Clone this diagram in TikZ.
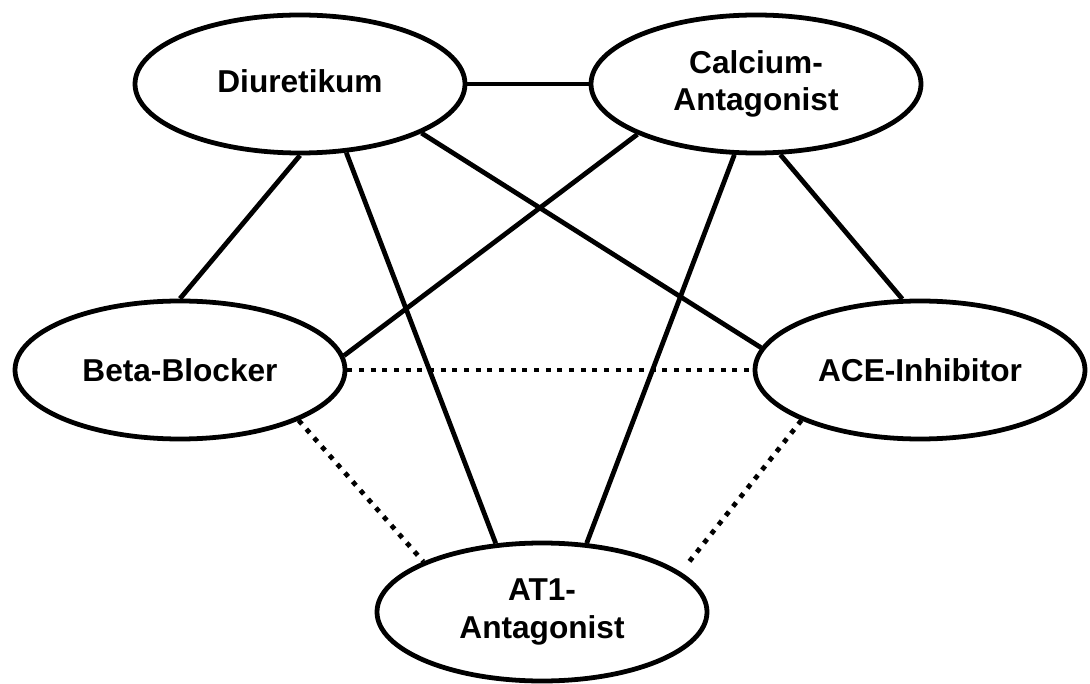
\documentclass[tikz,border=0pt]{standalone}
\usepackage{fontspec}
\setmainfont{Liberation Sans}
\usetikzlibrary{shapes.geometric}

\begin{document}
\begin{tikzpicture}[line width=3.4pt,
    drug/.style={draw, ellipse, minimum width=8.25cm, minimum height=3.45cm, align=center, inner sep=0pt, font=\fontsize{22.5}{26.5}\selectfont\bfseries},
    weak/.style={dash pattern=on 3.5pt off 4.8pt}]
    \useasboundingbox (0,0) rectangle (27.25,-17.1);

    \node[drug] at (7.5,-2.1)    (D) {\raisebox{0.15cm}{Diuretikum}};
    \node[drug] at (18.9,-2.1)   (C) {Calcium-\\Antagonist};
    \node[drug] at (4.5,-9.25)   (B) {Beta-Blocker};
    \node[drug] at (23.0,-9.25)  (A) {ACE-Inhibitor};
    \node[drug] at (13.55,-15.3) (T) {AT1-\\Antagonist};

    % solid lines
    \draw (D.east) -- (C.west);
    \draw (D.south) -- (B.north);
    \draw (D.-56) -- (T.124);
    \draw (D.-22) -- (A.172.5);
    \draw (C.203.4) -- (B.5.9);
    \draw (C.-107.7) -- (T.57.8);
    \draw (C.-71.8) -- (A.104.8);

    % dotted lines
    \draw[weak] (B.east) -- (A.west);
    \draw[weak] (B.-23.9) -- (T.157.1);
    \draw[weak, shorten >=0.2cm] (A.203.8) -- (T.16.9);
\end{tikzpicture}
\end{document}
